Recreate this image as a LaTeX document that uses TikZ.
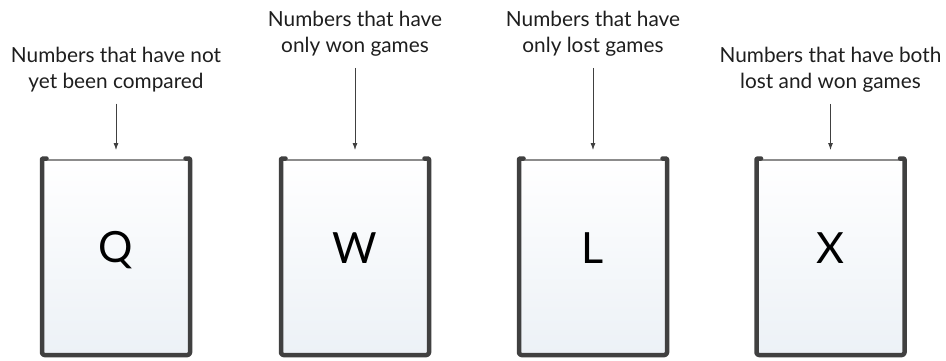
\documentclass[tikz,border=0pt]{standalone}
\usepackage{fontspec}
\setmainfont{Lato}
\usetikzlibrary{arrows.meta}
\definecolor{binfill}{HTML}{ECF1F6}
\definecolor{wallcol}{HTML}{404040}
\definecolor{rimcol}{HTML}{8C8C8C}
\definecolor{txtcol}{HTML}{1E1E1E}
\newcommand\drawbin[1]{%
  \fill[top color=white,bottom color=binfill] (#1.north west) rectangle (#1.south east);
  \draw[rim] (#1.north west) -- (#1.north east);
  \draw[wall] ([xshift=4.5pt,yshift=1.5pt]#1.north west) .. controls ([yshift=1.5pt]#1.north west) .. ([yshift=-2pt]#1.north west)
     -- (#1.south west) -- (#1.south east) -- ([yshift=-2pt]#1.north east)
     .. controls ([yshift=1.5pt]#1.north east) .. ([xshift=-4.5pt,yshift=1.5pt]#1.north east);
}
\begin{document}
\begin{tikzpicture}[x=1pt,y=-1pt,
  lbl/.style={font=\fontsize{20.8}{26}\selectfont, align=center, text=txtcol, inner sep=0pt},
  arr/.style={draw=wallcol, line width=0.8pt, -{Latex[length=7pt,width=5pt]}, shorten <=11pt, shorten >=10pt},
  binbox/.style={minimum width=148pt, minimum height=195pt, inner sep=0pt, outer sep=0pt},
  letter/.style={font=\fontsize{43}{43}\selectfont, text=black},
  wall/.style={draw=wallcol, line width=4.5pt, line cap=round, line join=round, rounded corners=2.5pt},
  rim/.style={draw=rimcol, line width=1.2pt}]
\useasboundingbox (0,0) rectangle (946,360);
\fill[white] (0,0) rectangle (946,360);
% bins
\node[binbox] (bQ) at (116,257.5) {};
\node[binbox] (bW) at (355,257.5) {};
\node[binbox] (bL) at (593,257.5) {};
\node[binbox] (bX) at (830.5,257.5) {};
\drawbin{bQ}
\drawbin{bW}
\drawbin{bL}
\drawbin{bX}
\node[letter] (Q) at (116,250) {Q};
\node[letter] (W) at (355,248) {W};
\node[letter] (L) at (593,248) {L};
\node[letter] (X) at (830.5,248) {X};
% labels
\node[lbl] (lQ) at (116,70) {Numbers that have not\\yet been compared};
\node[lbl] (lW) at (355,34) {Numbers that have\\only won games};
\node[lbl] (lL) at (593,34) {Numbers that have\\only lost games};
\node[lbl] (lX) at (830.5,70) {Numbers that have both\\lost and won games};
% arrows
\draw[arr] (lQ.south) -- (lQ.south |- bQ.north);
\draw[arr] (lW.south) -- (lW.south |- bW.north);
\draw[arr] (lL.south) -- (lL.south |- bL.north);
\draw[arr] (lX.south) -- (lX.south |- bX.north);
\end{tikzpicture}
\end{document}
